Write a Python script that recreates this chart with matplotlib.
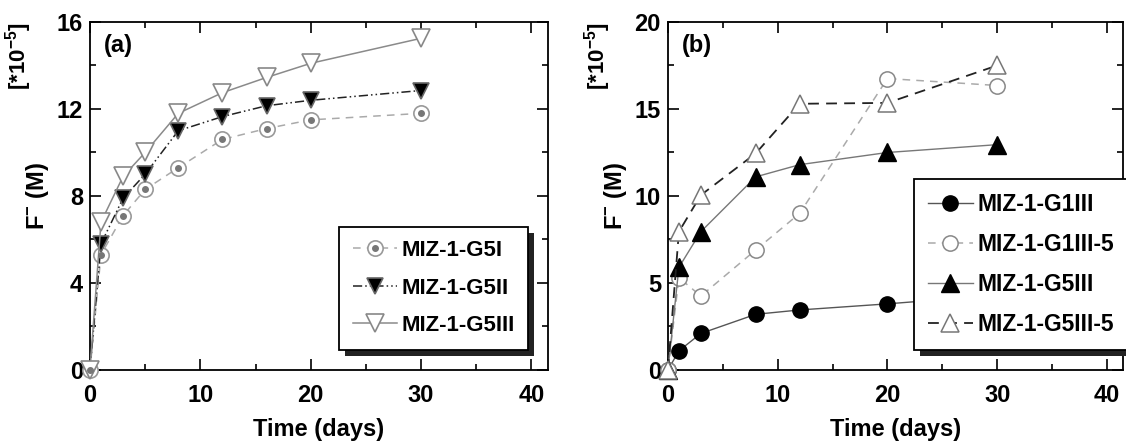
import matplotlib
matplotlib.use("Agg")
import matplotlib.pyplot as plt
from matplotlib.legend_handler import HandlerTuple
from matplotlib.patches import Rectangle
from matplotlib.transforms import IdentityTransform
from matplotlib.ticker import MultipleLocator

plt.rcParams['font.family'] = ['Liberation Sans', 'DejaVu Sans']
plt.rcParams['font.weight'] = 'bold'
plt.rcParams['mathtext.fontset'] = 'custom'
plt.rcParams['mathtext.rm'] = 'Liberation Sans:bold'
plt.rcParams['mathtext.it'] = 'Liberation Sans:bold'
plt.rcParams['mathtext.bf'] = 'Liberation Sans:bold'

# panel (a) data, F- in units of 1e-5 M
days_a = [0, 1, 3, 5, 8, 12, 16, 20, 30]
g5i = [0, 5.3, 7.1, 8.3, 9.3, 10.6, 11.1, 11.5, 11.8]
g5ii = [0, 5.8, 7.9, 9.0, 11.0, 11.65, 12.15, 12.4, 12.85]
g5iii = [0, 6.8, 8.9, 10.0, 11.8, 12.75, 13.45, 14.1, 15.25]
labels_a = ["MIZ-1-G5I", "MIZ-1-G5II", "MIZ-1-G5III"]

# panel (b) data
days_b = [0, 1, 3, 8, 12, 20, 30]
g1iii = [0, 1.1, 2.1, 3.2, 3.45, 3.8, 4.3]
g1iii_5 = [0, 5.3, 4.25, 6.9, 9.0, 16.75, 16.35]
g5iii_b = [0, 5.9, 7.95, 11.1, 11.8, 12.5, 12.95]
g5iii_5 = [0, 7.95, 10.05, 12.45, 15.3, 15.35, 17.5]
labels_b = ["MIZ-1-G1III", "MIZ-1-G1III-5", "MIZ-1-G5III", "MIZ-1-G5III-5"]

FS = 17

fig = plt.figure(figsize=(11.26, 4.47), dpi=100)
ax1 = fig.add_axes([0.0799, 0.1723, 0.4068, 0.7785])
ax2 = fig.add_axes([0.5932, 0.1723, 0.4045, 0.7785])


def style_axes(ax, ymax, ymajor, label):
    ax.set_xlim(0, 41.5)
    ax.set_ylim(0, ymax)
    ax.xaxis.set_major_locator(MultipleLocator(10))
    ax.xaxis.set_minor_locator(MultipleLocator(5))
    ax.yaxis.set_major_locator(MultipleLocator(ymajor))
    ax.yaxis.set_minor_locator(MultipleLocator(ymajor / 2))
    ax.tick_params(which='both', direction='in', top=True, right=True,
                   labelsize=FS, width=1.2)
    ax.tick_params(which='major', length=8, pad=5)
    ax.tick_params(axis='x', which='major', pad=10)
    ax.tick_params(which='minor', length=4)
    for sp in ax.spines.values():
        sp.set_linewidth(1.3)
    ax.set_xlabel("Time (days)", fontsize=FS, fontweight='bold', labelpad=8)
    ax.set_ylabel(r"F$^{-}$ (M)", fontsize=FS, fontweight='bold', labelpad=4)
    ax.text(-0.155, 1.0, r"[*10$^{-5}$]", transform=ax.transAxes,
            rotation=90, ha='center', va='top', fontsize=FS - 1,
            fontweight='bold')
    ax.text(0.03, 0.965, label, transform=ax.transAxes, ha='left', va='top',
            fontsize=FS, fontweight='bold')


def add_legend(ax, handles, labels, x0, y0, fs):
    leg = ax.legend(handles, labels, loc='lower left', bbox_to_anchor=(x0, y0),
                    bbox_transform=ax.transData, borderaxespad=0,
                    fancybox=False, framealpha=1, edgecolor='black',
                    prop={'size': fs, 'weight': 'bold'},
                    handlelength=2.0, handletextpad=0.2, labelspacing=0.75,
                    borderpad=0.6, handler_map={tuple: HandlerTuple(ndivide=1)})
    leg.get_frame().set_linewidth(1.3)
    leg.set_zorder(6)
    return leg


# panel (a)
style_axes(ax1, 16, 4, "(a)")
l1, = ax1.plot(days_a, g5i, ls=(0, (5, 4)), color='#aaaaaa', lw=1.1,
               marker='o', ms=11, mfc='white', mec='#999999', mew=1.2,
               clip_on=False, zorder=3)
d1, = ax1.plot(days_a, g5i, ls='none', marker='o', ms=4, color='#777777',
               clip_on=False, zorder=3.1)
l2, = ax1.plot(days_a, g5ii, ls=(0, (6, 2, 1, 2, 1, 2)), color='#222222', lw=1.1,
               marker='v', ms=12, mfc='black', mec='#666666', mew=1.2,
               clip_on=False, zorder=3)
l3, = ax1.plot(days_a, g5iii, ls='-', color='#8a8a8a', lw=1.1,
               marker='v', ms=13, mfc='white', mec='#888888', mew=1.2,
               clip_on=False, zorder=3)
leg1 = add_legend(ax1, [(l1, d1), l2, l3], labels_a, 22.6, 0.94, FS - 1)

# panel (b)
style_axes(ax2, 20, 5, "(b)")
m1, = ax2.plot(days_b, g1iii, ls='-', color='#555555', lw=1.0,
               marker='o', ms=11, mfc='black', mec='black',
               clip_on=False, zorder=3)
m2, = ax2.plot(days_b, g1iii_5, ls=(0, (5, 4)), color='#aaaaaa', lw=1.1,
               marker='o', ms=11, mfc='white', mec='#888888', mew=1.1,
               clip_on=False, zorder=3)
m3, = ax2.plot(days_b, g5iii_b, ls='-', color='#777777', lw=1.0,
               marker='^', ms=13, mfc='black', mec='black',
               clip_on=False, zorder=3)
m4, = ax2.plot(days_b, g5iii_5, ls=(0, (6, 4)), color='#222222', lw=1.3,
               marker='^', ms=13, mfc='white', mec='#777777', mew=1.1,
               clip_on=False, zorder=3.2)
leg2 = add_legend(ax2, [m1, m2, m3, m4], labels_b, 22.4, 1.14, FS - 0.5)

# drop shadows behind the legends
fig.canvas.draw()
for ax, leg in [(ax1, leg1), (ax2, leg2)]:
    bb = leg.get_window_extent()
    sh = Rectangle((bb.x0 + 6, bb.y0 - 6), bb.width, bb.height,
                   transform=IdentityTransform(), facecolor='#222222',
                   edgecolor='none', zorder=5.5, clip_on=False)
    ax.add_artist(sh)

fig.savefig("out.png", dpi=100)
